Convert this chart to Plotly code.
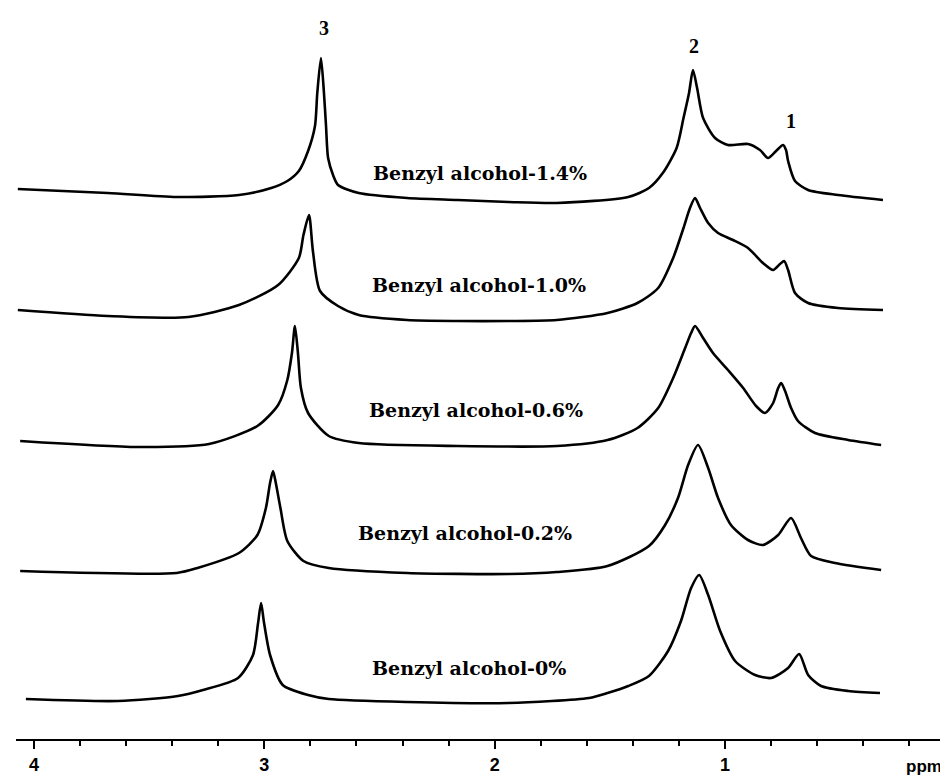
import plotly.graph_objects as go

# ---- data (ppm, signal height in arbitrary units) ----
labels = ["Benzyl alcohol-1.4%", "Benzyl alcohol-1.0%", "Benzyl alcohol-0.6%",
          "Benzyl alcohol-0.2%", "Benzyl alcohol-0%"]

ppm_14 = [4.07, 3.68, 3.38, 3.11, 2.97, 2.90, 2.85, 2.81, 2.78, 2.77, 2.754, 2.741, 2.732, 2.723,
          2.70, 2.68, 2.59, 2.38, 2.16, 1.94, 1.73, 1.42, 1.33, 1.27, 1.21, 1.18, 1.156, 1.139,
          1.121, 1.095, 1.043, 0.987, 0.90, 0.848, 0.813, 0.778, 0.748, 0.735, 0.726, 0.696,
          0.639, 0.509, 0.314]
int_14 = [550, 546, 542, 544, 551, 558, 568, 588, 613, 646, 681, 646, 613, 581,
          563, 554, 546, 541, 539, 537, 536, 542, 551, 566, 591, 621, 646, 669,
          651, 621, 601, 594, 595, 589, 581, 588, 594, 589, 578, 558,
          549, 544, 539]

ppm_10 = [4.07, 3.68, 3.33, 3.11, 2.94, 2.85, 2.83, 2.806, 2.789, 2.758, 2.68, 2.59, 2.38, 2.16,
          1.94, 1.73, 1.51, 1.38, 1.29, 1.225, 1.18, 1.152, 1.13, 1.108, 1.073, 1.03, 0.965,
          0.90, 0.835, 0.791, 0.761, 0.743, 0.726, 0.696, 0.639, 0.509, 0.314]
int_10 = [429, 423, 422, 434, 454, 481, 504, 524, 488, 448, 433, 424, 419, 418,
          418, 419, 426, 436, 451, 481, 511, 531, 541, 531, 516, 506, 499,
          491, 476, 469, 475, 478, 469, 446, 436, 431, 429]

ppm_06 = [4.06, 3.55, 3.24, 3.03, 2.94, 2.90, 2.88, 2.867, 2.854, 2.841, 2.81, 2.72, 2.59, 2.16,
          1.73, 1.51, 1.38, 1.29, 1.225, 1.173, 1.147, 1.13, 1.095, 1.052, 0.987, 0.921,
          0.865, 0.826, 0.791, 0.769, 0.756, 0.739, 0.713, 0.683, 0.609, 0.465, 0.322]
int_06 = [298, 292, 295, 313, 334, 359, 386, 413, 386, 351, 326, 303, 296, 293,
          293, 299, 311, 331, 361, 391, 406, 413, 401, 386, 369, 351,
          333, 326, 336, 351, 356, 348, 331, 318, 306, 299, 294]

ppm_02 = [4.06, 3.38, 3.29, 3.11, 3.03, 2.993, 2.975, 2.962, 2.95, 2.93, 2.90, 2.83, 2.72, 2.38,
          1.94, 1.73, 1.51, 1.33, 1.26, 1.204, 1.16, 1.117, 1.073, 1.03, 0.974, 0.90,
          0.835, 0.769, 0.713, 0.67, 0.626, 0.522, 0.322]
int_02 = [168, 166, 171, 186, 204, 231, 256, 268, 256, 231, 198, 178, 171, 166,
          165, 167, 173, 193, 214, 241, 274, 294, 271, 241, 214, 199,
          194, 204, 221, 201, 183, 176, 169]

ppm_00 = [4.035, 3.635, 3.375, 3.266, 3.114, 3.049, 3.027, 3.014, 3.001, 2.975, 2.92, 2.81, 2.72,
          2.38, 1.94, 1.59, 1.51, 1.42, 1.33, 1.247, 1.191, 1.147, 1.112, 1.073, 1.021, 0.956,
          0.869, 0.80, 0.726, 0.678, 0.639, 0.583, 0.465, 0.327]
int_00 = [40, 38, 43, 49, 61, 84, 116, 136, 116, 84, 54, 44, 40,
          37, 36, 41, 46, 53, 63, 88, 118, 151, 164, 144, 108, 78,
          64, 61, 71, 85, 64, 53, 48, 46]

series_ppm = [ppm_14, ppm_10, ppm_06, ppm_02, ppm_00]
series_int = [int_14, int_10, int_06, int_02, int_00]

# label anchor points (ppm, height)
label_ppm = [2.063, 2.068, 2.08, 2.13, 2.11]
label_int = [566, 454, 329, 206, 71]

peak_names = ["3", "2", "1"]
peak_ppm = [2.741, 1.134, 0.713]
peak_int = [711, 693, 618]

tick_vals = [4, 3, 2, 1]
tick_text = ["4", "3", "2", "1"]

fig = go.Figure()
for xs, ys in zip(series_ppm, series_int):
    fig.add_trace(go.Scatter(
        x=xs, y=ys, mode="lines",
        line=dict(color="black", width=2.6, shape="spline", smoothing=0.7),
        showlegend=False, hoverinfo="skip"))

for t, x, y in zip(labels, label_ppm, label_int):
    fig.add_annotation(x=x, y=y, text=t, showarrow=False,
                       font=dict(family="DejaVu Serif", size=19, color="black", weight="bold"),
                       xanchor="center", yanchor="middle")

for t, x, y in zip(peak_names, peak_ppm, peak_int):
    fig.add_annotation(x=x, y=y, text=t, showarrow=False,
                       font=dict(family="Liberation Serif", size=20, color="black", weight="bold"),
                       xanchor="center", yanchor="middle")

fig.add_annotation(x=0.966, y=-0.038, xref="paper", yref="paper", text="ppm",
                   showarrow=False, xanchor="center", yanchor="middle",
                   font=dict(family="Liberation Sans", size=17, color="black", weight="bold"))

fig.update_layout(
    width=948, height=777, autosize=False,
    margin=dict(l=8, r=0, t=0, b=46),
    paper_bgcolor="white", plot_bgcolor="white",
    xaxis=dict(range=[4.078, -0.003], showgrid=False, zeroline=False,
               showline=True, linecolor="black", linewidth=2,
               ticks="outside", ticklen=8, tickwidth=2, tickcolor="black",
               tickvals=tick_vals, ticktext=tick_text,
               tickfont=dict(family="Liberation Sans", size=18, color="black", weight="bold"),
               minor=dict(dtick=0.2, tick0=0, ticks="outside", ticklen=5,
                          tickwidth=1.5, tickcolor="black", showgrid=False)),
    yaxis=dict(range=[0, 731], visible=False, showgrid=False, zeroline=False),
)

fig.write_html("out.html")
